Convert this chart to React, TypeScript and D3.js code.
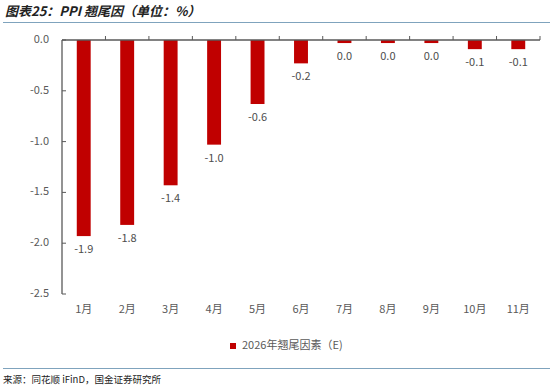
import React from 'react';
import {scaleBand, scaleLinear} from 'd3';

// 2026 PPI carry-over factor, monthly, %
const months = ['1月', '2月', '3月', '4月', '5月', '6月', '7月', '8月', '9月', '10月', '11月'];
const carryOver = [-1.93, -1.82, -1.43, -1.03, -0.63, -0.23, -0.03, -0.03, -0.03, -0.09, -0.09];
const yTicks = [0, -0.5, -1.0, -1.5, -2.0, -2.5];

const title = '图表25：PPI 翘尾因（单位：%）';
const legendLabel = '2026年翘尾因素（E)';
const source = '来源：同花顺 iFinD，国金证券研究所';

const W = 550;
const H = 388;
const margin = {left: 62, right: 10, top: 40, bottom: 94};

const fmt = (v: number) => (Math.abs(v) < 0.05 ? '0.0' : v.toFixed(1));

export default function App() {
    const x = scaleBand<string>()
        .domain(months)
        .range([margin.left, W - margin.right])
        .paddingInner(0.68)
        .paddingOuter(0.34);

    const y = scaleLinear()
        .domain([0, -2.5])
        .range([margin.top, H - margin.bottom]);

    const font = '"Noto Sans CJK SC", "Noto Sans", sans-serif';
    const axisColor = '#595959';
    const textColor = '#595959';
    const step = x.step();
    const x0 = margin.left;
    const x1 = W - margin.right;

    return (
        <svg width={W} height={H} style={{position: 'absolute', left: 0, top: 0}} fontFamily={font}>
            <rect width={W} height={H} fill="#fff" />

            {/* title */}
            <text x={5} y={12} dominantBaseline="middle" fontSize={13} fontWeight="bold"
                  fontStyle="italic" fill="#222">{title}</text>
            <line x1={3} x2={W} y1={22.5} y2={22.5} stroke="#7fa3bd" strokeWidth={1.2} />

            {/* y axis */}
            <line x1={x0} x2={x0} y1={y(0)} y2={y(-2.5)} stroke={axisColor} strokeWidth={1.3} />
            {yTicks.map(t => (
                <g key={t}>
                    <line x1={x0} x2={x0 + 4} y1={y(t)} y2={y(t)} stroke={axisColor} />
                    <text x={49} y={y(t)} textAnchor="end" dominantBaseline="middle"
                          fontSize={11} fill={textColor}>{t.toFixed(1)}</text>
                </g>
            ))}

            {/* bars */}
            {carryOver.map((v, i) => (
                <rect key={months[i]} x={x(months[i])} y={y(0)} width={x.bandwidth()}
                      height={y(v) - y(0)} fill="#C00000" />
            ))}

            {/* x axis on zero line */}
            <line x1={x0} x2={x1} y1={y(0)} y2={y(0)} stroke={axisColor} strokeWidth={1.3} />
            {months.map((m, i) => (
                <line key={m} x1={x0 + step * (i + 1)} x2={x0 + step * (i + 1)}
                      y1={y(0)} y2={y(0) - 4} stroke={axisColor} />
            ))}

            {/* data labels */}
            {carryOver.map((v, i) => (
                <text key={months[i]} x={(x(months[i]) as number) + x.bandwidth() / 2} y={y(v) + 14}
                      textAnchor="middle" dominantBaseline="middle" fontSize={11}
                      fill="#4d4d4d">{fmt(v)}</text>
            ))}

            {/* category labels */}
            {months.map(m => (
                <text key={m} x={(x(m) as number) + x.bandwidth() / 2} y={310} textAnchor="middle"
                      dominantBaseline="middle" fontSize={11} fill={textColor}>{m}</text>
            ))}

            {/* legend */}
            <rect x={230} y={343} width={6} height={6} fill="#C00000" />
            <text x={242} y={346.5} dominantBaseline="middle" fontSize={11} fill={textColor}>{legendLabel}</text>

            {/* footer */}
            <line x1={3} x2={W} y1={368.5} y2={368.5} stroke="#7fa3bd" strokeWidth={1.2} />
            <text x={3} y={380} dominantBaseline="middle" fontSize={9.5} fill="#222">{source}</text>
        </svg>
    );
}
